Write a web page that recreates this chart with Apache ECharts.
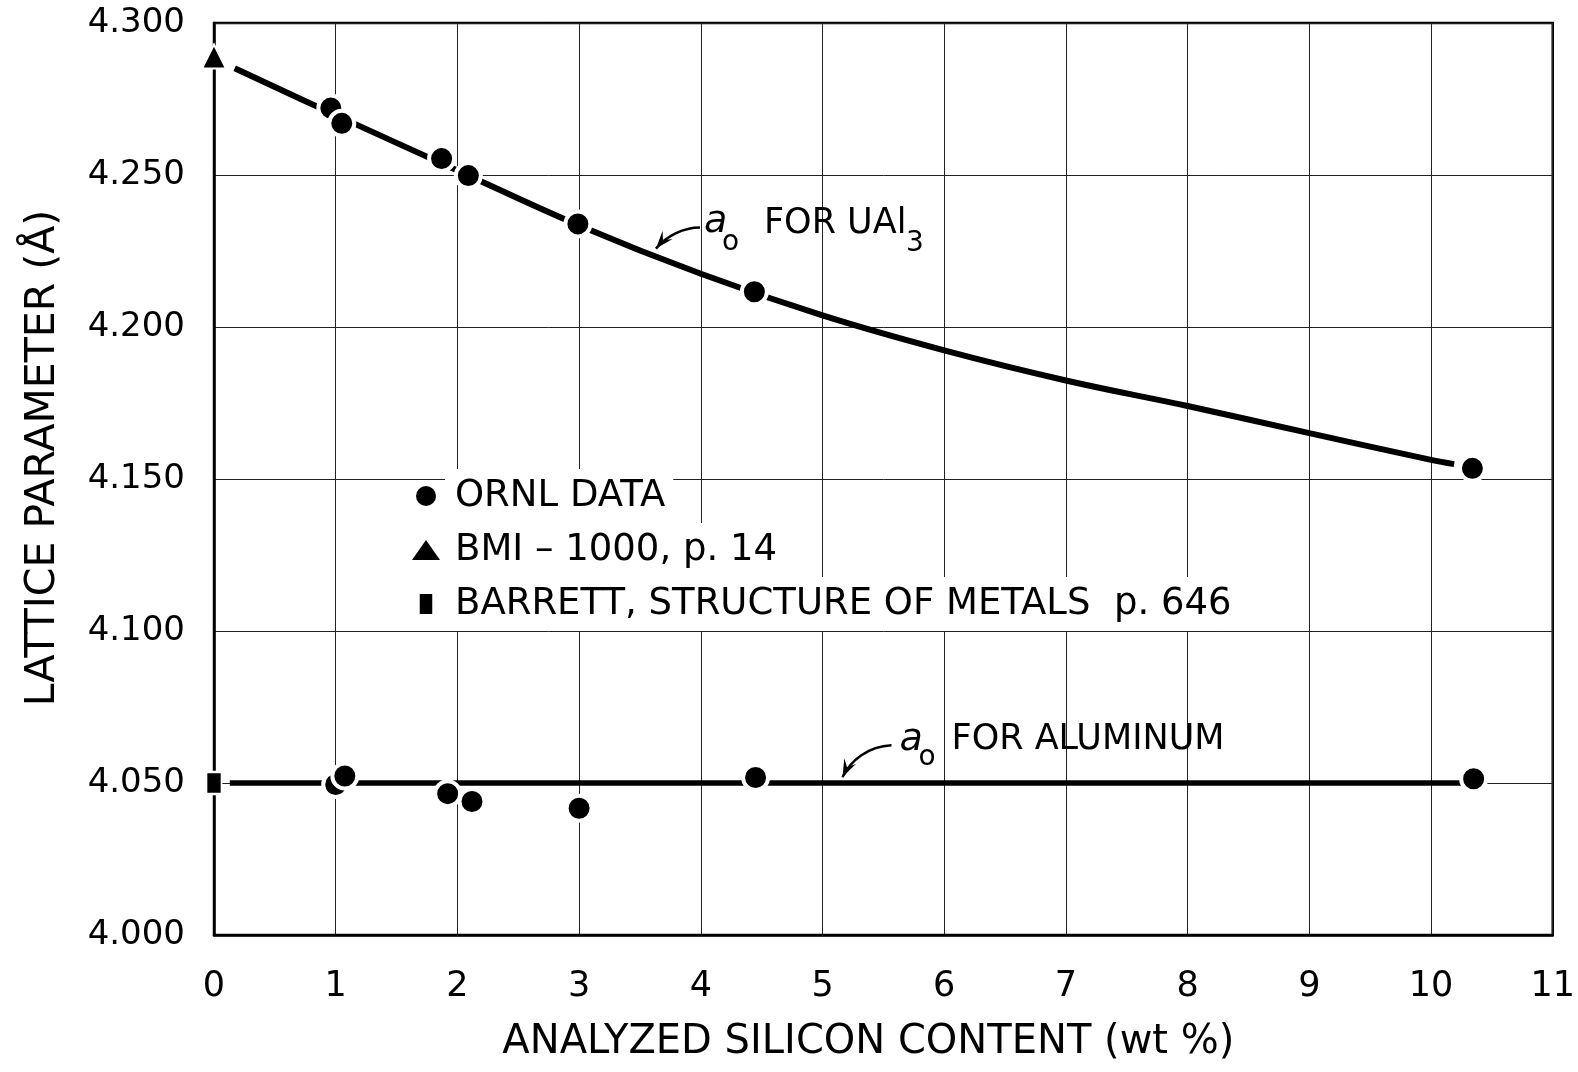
<!DOCTYPE html>
<html><head><meta charset="utf-8">
<script src="https://cdn.jsdelivr.net/npm/echarts@6/dist/echarts.min.js"></script>
<style>html,body{margin:0;padding:0;background:#fff}#c{width:1578px;height:1072px}</style>
</head><body><div id="c"></div>
<script>
// ---- data ----
const ORNL_UAL3_X = [0.96, 1.05, 1.87, 2.09, 2.99, 4.44, 10.34];
const ORNL_UAL3_Y = [4.272, 4.267, 4.2554, 4.2498, 4.2339, 4.2116, 4.1535];
const ORNL_AL_X = [1.0, 1.075, 1.92, 2.12, 3.0, 4.45, 10.35];
const ORNL_AL_Y = [4.0495, 4.0523, 4.0465, 4.0439, 4.0417, 4.0518, 4.0514];
const BMI_X = [0];
const BMI_Y = [4.289];
const BARRETT_X = [0];
const BARRETT_Y = [4.050];
const UAL3_CURVE_X = [0.17, 1.0, 2.0, 3.0, 4.0, 5.0, 6.0, 7.0, 8.0, 9.0, 10.0, 10.19];
const UAL3_CURVE_Y = [4.2851, 4.2697, 4.2515, 4.2334, 4.2175, 4.2038, 4.1923, 4.1824, 4.1740, 4.1651, 4.1563, 4.1549];
const AL_LINE_X = [0.13, 10.25];
const AL_LINE_Y = [4.050, 4.050];
const SERIES_NAMES = ['ORNL DATA', 'BMI – 1000, p. 14', 'BARRETT, STRUCTURE OF METALS  p. 646'];
const X_AXIS_TITLE = 'ANALYZED SILICON CONTENT (wt %)';
const Y_AXIS_TITLE = 'LATTICE PARAMETER (Å)';
const UAL3_NOTE_TIP = [3.615, 4.2248];
const AL_NOTE_TIP = [5.156, 4.0509];

const FONT = '"DejaVu Sans", sans-serif';
const zip = (xs, ys) => xs.map((x, i) => [x, ys[i]]);

const chart = echarts.init(document.getElementById('c'), null, {renderer: 'canvas'});
const markerStyle = {color: '#000', opacity: 1, borderColor: '#fff', borderWidth: 4};

chart.setOption({
  backgroundColor: '#fff',
  animation: false,
  grid: {left: 214, right: 22, top: 23, bottom: 137, show: true, borderColor: '#000', borderWidth: 2.5},
  xAxis: {
    type: 'value', min: 0, max: 11, interval: 1,
    name: X_AXIS_TITLE, nameLocation: 'middle', nameGap: 88,
    nameTextStyle: {fontFamily: FONT, fontSize: 40, color: '#000', padding: [0, 30, 0, 0]},
    axisLine: {show: true, lineStyle: {color: '#000', width: 2.5}},
    axisTick: {show: false},
    axisLabel: {fontFamily: FONT, fontSize: 35, color: '#000', margin: 34},
    splitLine: {show: true, lineStyle: {color: '#222', width: 1}}
  },
  yAxis: {
    type: 'value', min: 4.0, max: 4.3, interval: 0.05,
    name: Y_AXIS_TITLE, nameLocation: 'middle', nameRotate: 90, nameGap: 150,
    nameTextStyle: {fontFamily: FONT, fontSize: 41, color: '#000', padding: [0, 0, 0, 42]},
    axisLine: {show: true, lineStyle: {color: '#000', width: 2.5}},
    axisTick: {show: false},
    axisLabel: {fontFamily: FONT, fontSize: 34, color: '#000', margin: 29,
      formatter: v => v.toFixed(3)},
    splitLine: {show: true, lineStyle: {color: '#222', width: 1}}
  },
  legend: {
    orient: 'vertical', left: 407, top: 464, itemGap: 0,
    itemWidth: 28, itemHeight: 20, symbolKeepAspect: true,
    itemStyle: {borderWidth: 0, opacity: 1},
    textStyle: {fontFamily: FONT, fontSize: 37, color: '#000', lineHeight: 54,
      backgroundColor: '#fff', padding: [0, 8, 0, 10]},
    data: [
      {name: SERIES_NAMES[0], icon: 'circle'},
      {name: SERIES_NAMES[1], icon: 'triangle'},
      {name: SERIES_NAMES[2], icon: 'path://M0,0L10,0L10,16L0,16Z'}
    ]
  },
  series: [
    {name: 'UAl3 curve', type: 'line', data: zip(UAL3_CURVE_X, UAL3_CURVE_Y), smooth: 0.4,
      showSymbol: false, lineStyle: {color: '#000', width: 6}, z: 2, silent: true},
    {name: 'Al line', type: 'line', data: zip(AL_LINE_X, AL_LINE_Y),
      showSymbol: false, lineStyle: {color: '#000', width: 5.5}, z: 2, silent: true},
    {name: SERIES_NAMES[0], type: 'scatter', clip: false, symbol: 'circle', symbolSize: 25,
      data: zip(ORNL_UAL3_X, ORNL_UAL3_Y).concat(zip(ORNL_AL_X, ORNL_AL_Y)),
      itemStyle: markerStyle, z: 5},
    {name: SERIES_NAMES[1], type: 'scatter', clip: false, symbol: 'triangle', symbolSize: [24, 24],
      data: zip(BMI_X, BMI_Y), itemStyle: {color: '#000', opacity: 1, borderColor: '#fff', borderWidth: 2}, z: 5},
    {name: SERIES_NAMES[2], type: 'scatter', clip: false, symbol: 'rect', symbolSize: [15, 22],
      data: zip(BARRETT_X, BARRETT_Y), itemStyle: {color: '#000', opacity: 1, borderColor: '#fff', borderWidth: 2}, z: 5}
  ]
});

// ---- annotations anchored to data coordinates ----
function arrow(tip, p0, c1, c2) {
  const els = [];
  els.push({type: 'bezierCurve', silent: true, z: 10,
    shape: {x1: p0[0], y1: p0[1], cpx1: c1[0], cpy1: c1[1], cpx2: c2[0], cpy2: c2[1], x2: tip[0], y2: tip[1]},
    style: {stroke: '#000', lineWidth: 2.5, fill: null}});
  let dx = tip[0] - c2[0], dy = tip[1] - c2[1];
  const L = Math.hypot(dx, dy); dx /= L; dy /= L;
  const len = 18, hw = 6.5;
  const bx = tip[0] - dx * len, by = tip[1] - dy * len;
  els.push({type: 'polygon', silent: true, z: 11,
    shape: {points: [[tip[0], tip[1]], [bx - dy * hw, by + dx * hw], [tip[0] - dx * len * 0.6, tip[1] - dy * len * 0.6], [bx + dy * hw, by - dx * hw]]},
    style: {fill: '#000'}});
  return els;
}
function txt(x, y, text, font) {
  return {type: 'text', x: x, y: y, silent: true, z: 12,
    style: {text: text, font: font, fill: '#000', align: 'left', verticalAlign: 'middle'}};
}
const t1 = chart.convertToPixel({gridIndex: 0}, UAL3_NOTE_TIP);
const t2 = chart.convertToPixel({gridIndex: 0}, AL_NOTE_TIP);
const g = [];
g.push(...arrow([t1[0] + 2, t1[1] - 3], [t1[0] + 46, t1[1] - 24], [t1[0] + 30, t1[1] - 24], [t1[0] + 13, t1[1] - 16]));
g.push(txt(t1[0] + 50, t1[1] - 29, 'a', 'italic 38px ' + FONT));
g.push(txt(t1[0] + 68, t1[1] - 9, 'o', '28px ' + FONT));
g.push(txt(t1[0] + 110, t1[1] - 28, 'FOR UAl', '35px ' + FONT));
g.push(txt(t1[0] + 252, t1[1] - 8, '3', '28px ' + FONT));
g.push(...arrow([t2[0] + 1, t2[1] - 3], [t2[0] + 50, t2[1] - 35], [t2[0] + 27, t2[1] - 34], [t2[0] + 9, t2[1] - 20]));
g.push(txt(t2[0] + 58, t2[1] - 40, 'a', 'italic 38px ' + FONT));
g.push(txt(t2[0] + 77, t2[1] - 23, 'o', '28px ' + FONT));
g.push(txt(t2[0] + 110, t2[1] - 40, 'FOR ALUMINUM', '35px ' + FONT));
chart.setOption({graphic: g});
</script>
</body></html>
